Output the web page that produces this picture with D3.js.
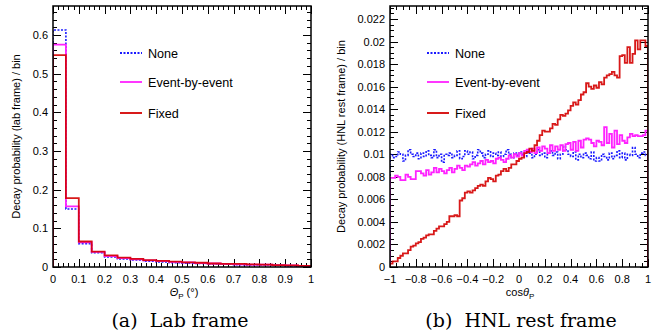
<!DOCTYPE html>
<html>
<head>
<meta charset="utf-8" />
<script src="https://d3js.org/d3.v7.min.js"></script>
<style>
  body { margin: 0; background: #fff; }
  text { font-family: "Liberation Sans", Arial, sans-serif; }
  .cap { font-family: "DejaVu Serif", "Liberation Serif", serif; }
</style>
</head>
<body>
<svg id="fig" width="662" height="332"></svg>
<script>
// ---- data ----
var seriesNames = ["None", "Event-by-event", "Fixed"];
var seriesColors = ["#1a1aff", "#ff22ff", "#d40000"];

// (a) lab frame, 20 bins of 0.05 in Theta_P
var labNone  = [0.613, 0.150, 0.060, 0.037, 0.026, 0.021, 0.018, 0.015, 0.013, 0.011, 0.010, 0.009, 0.008, 0.007, 0.006, 0.005, 0.005, 0.004, 0.003, 0.002];
var labEvent = [0.575, 0.157, 0.064, 0.039, 0.028, 0.023, 0.020, 0.017, 0.015, 0.013, 0.012, 0.010, 0.009, 0.008, 0.007, 0.006, 0.006, 0.005, 0.004, 0.003];
var labFixed = [0.548, 0.178, 0.066, 0.040, 0.030, 0.024, 0.021, 0.018, 0.016, 0.014, 0.012, 0.011, 0.009, 0.008, 0.008, 0.007, 0.006, 0.005, 0.004, 0.003];

// (b) HNL rest frame, 100 bins of 0.02 in cos(theta_P)
var restNone = [
  0.0100, 0.0097, 0.0098, 0.0102, 0.0100, 0.0094, 0.0099, 0.0104, 0.0100, 0.0098,
  0.0101, 0.0096, 0.0101, 0.0098, 0.0103, 0.0099, 0.0097, 0.0104, 0.0097, 0.0100,
  0.0093, 0.0100, 0.0099, 0.0101, 0.0097, 0.0099, 0.0103, 0.0096, 0.0098, 0.0103,
  0.0100, 0.0102, 0.0096, 0.0099, 0.0104, 0.0101, 0.0097, 0.0100, 0.0103, 0.0098,
  0.0101, 0.0099, 0.0102, 0.0098, 0.0100, 0.0104, 0.0100, 0.0097, 0.0101, 0.0099,
  0.0102, 0.0100, 0.0098, 0.0103, 0.0101, 0.0097, 0.0100, 0.0104, 0.0099, 0.0101,
  0.0097, 0.0101, 0.0103, 0.0099, 0.0102, 0.0096, 0.0100, 0.0107, 0.0104, 0.0100,
  0.0098, 0.0102, 0.0095, 0.0100, 0.0097, 0.0101, 0.0099, 0.0096, 0.0102, 0.0094,
  0.0097, 0.0094, 0.0100, 0.0098, 0.0095, 0.0101, 0.0096, 0.0099, 0.0103, 0.0097,
  0.0101, 0.0095, 0.0100, 0.0099, 0.0106, 0.0100, 0.0097, 0.0101, 0.0102, 0.0099];
var restEvent = [
  0.0079, 0.0079, 0.0081, 0.0080, 0.0077, 0.0077, 0.0082, 0.0080, 0.0078, 0.0078,
  0.0085, 0.0085, 0.0083, 0.0081, 0.0086, 0.0082, 0.0084, 0.0088, 0.0084, 0.0087,
  0.0085, 0.0083, 0.0086, 0.0088, 0.0084, 0.0087, 0.0090, 0.0088, 0.0086, 0.0090,
  0.0089, 0.0091, 0.0093, 0.0090, 0.0092, 0.0094, 0.0091, 0.0095, 0.0093, 0.0094,
  0.0092, 0.0096, 0.0097, 0.0095, 0.0093, 0.0096, 0.0099, 0.0097, 0.0100, 0.0098,
  0.0101, 0.0099, 0.0103, 0.0104, 0.0102, 0.0105, 0.0101, 0.0106, 0.0103, 0.0107,
  0.0105, 0.0101, 0.0108, 0.0103, 0.0107, 0.0104, 0.0108, 0.0103, 0.0109, 0.0110,
  0.0104, 0.0111, 0.0103, 0.0112, 0.0106, 0.0113, 0.0114, 0.0113, 0.0110, 0.0107,
  0.0112, 0.0111, 0.0108, 0.0124, 0.0110, 0.0118, 0.0106, 0.0121, 0.0109, 0.0117,
  0.0112, 0.0110, 0.0115, 0.0118, 0.0116, 0.0117, 0.0116, 0.0116, 0.0117, 0.0121];
var restFixed = [
  0.0003, 0.0005, 0.0005, 0.0008, 0.0010, 0.0012, 0.0012, 0.0015, 0.0018, 0.0019,
  0.0021, 0.0022, 0.0025, 0.0026, 0.0028, 0.0029, 0.0029, 0.0032, 0.0034, 0.0036,
  0.0036, 0.0038, 0.0040, 0.0045, 0.0045, 0.0046, 0.0045, 0.0059, 0.0061, 0.0066,
  0.0067, 0.0066, 0.0068, 0.0070, 0.0072, 0.0073, 0.0072, 0.0076, 0.0079, 0.0078,
  0.0076, 0.0081, 0.0082, 0.0085, 0.0087, 0.0085, 0.0088, 0.0091, 0.0091, 0.0094,
  0.0096, 0.0097, 0.0101, 0.0102, 0.0105, 0.0103, 0.0108, 0.0112, 0.0117, 0.0121,
  0.0120, 0.0120, 0.0123, 0.0127, 0.0126, 0.0131, 0.0135, 0.0134, 0.0136, 0.0139,
  0.0143, 0.0146, 0.0144, 0.0148, 0.0153, 0.0155, 0.0163, 0.0160, 0.0158, 0.0161,
  0.0159, 0.0164, 0.0162, 0.0168, 0.0170, 0.0171, 0.0173, 0.0170, 0.0168, 0.0187,
  0.0188, 0.0181, 0.0195, 0.0181, 0.0189, 0.0201, 0.0193, 0.0201, 0.0201, 0.0196];

var labXTicks = [0, 0.1, 0.2, 0.3, 0.4, 0.5, 0.6, 0.7, 0.8, 0.9, 1];
var labYTicks = [0, 0.1, 0.2, 0.3, 0.4, 0.5, 0.6];
var restXTicks = [-1, -0.8, -0.6, -0.4, -0.2, 0, 0.2, 0.4, 0.6, 0.8, 1];
var restYTicks = [0, 0.002, 0.004, 0.006, 0.008, 0.01, 0.012, 0.014, 0.016, 0.018, 0.02, 0.022];

var svg = d3.select("#fig");

function panel(opt) {
  var g = svg.append("g");
  var x = d3.scaleLinear().domain(opt.xdom).range([opt.left, opt.right]);
  var y = d3.scaleLinear().domain(opt.ydom).range([opt.bottom, opt.top]);

  var clipId = "clip" + opt.id;
  svg.append("clipPath").attr("id", clipId).append("rect")
    .attr("x", opt.left).attr("y", opt.top)
    .attr("width", opt.right - opt.left).attr("height", opt.bottom - opt.top);

  // minor + major ticks, mirrored on all four sides, pointing inward
  var xMinor = d3.range(opt.xdom[0], opt.xdom[1] + 1e-9, opt.xminor);
  var yMinor = d3.range(opt.ydom[0], opt.ydom[1] + 1e-9, opt.yminor);
  var tk = g.append("g").attr("stroke", "#000").attr("stroke-width", 1);
  xMinor.forEach(function (v) {
    var px = Math.round(x(v)) + 0.5;
    tk.append("line").attr("x1", px).attr("x2", px).attr("y1", opt.bottom).attr("y2", opt.bottom - 4);
    tk.append("line").attr("x1", px).attr("x2", px).attr("y1", opt.top).attr("y2", opt.top + 4);
  });
  opt.xticks.forEach(function (v) {
    var px = Math.round(x(v)) + 0.5;
    tk.append("line").attr("x1", px).attr("x2", px).attr("y1", opt.bottom).attr("y2", opt.bottom - 8);
    tk.append("line").attr("x1", px).attr("x2", px).attr("y1", opt.top).attr("y2", opt.top + 8);
  });
  yMinor.forEach(function (v) {
    var py = Math.round(y(v)) + 0.5;
    tk.append("line").attr("x1", opt.left).attr("x2", opt.left + 4).attr("y1", py).attr("y2", py);
    tk.append("line").attr("x1", opt.right).attr("x2", opt.right - 4).attr("y1", py).attr("y2", py);
  });
  opt.yticks.forEach(function (v) {
    var py = Math.round(y(v)) + 0.5;
    tk.append("line").attr("x1", opt.left).attr("x2", opt.left + 8).attr("y1", py).attr("y2", py);
    tk.append("line").attr("x1", opt.right).attr("x2", opt.right - 8).attr("y1", py).attr("y2", py);
  });

  // tick labels
  g.selectAll(".xl").data(opt.xticks).enter().append("text")
    .attr("x", function (d) { return x(d); }).attr("y", opt.bottom + 16)
    .attr("text-anchor", "middle").attr("font-size", 11)
    .text(function (d) { return d3.format("")(d).replace("-", "\u2212"); });
  g.selectAll(".yl").data(opt.yticks).enter().append("text")
    .attr("x", opt.left - 5).attr("y", function (d) { return y(d) + 4; })
    .attr("text-anchor", "end").attr("font-size", 11)
    .text(function (d) { return d3.format("")(+d.toFixed(4)); });

  // histograms
  var line = d3.line().x(function (d) { return x(d[0]); }).y(function (d) { return y(d[1]); });
  var hg = g.append("g").attr("clip-path", "url(#" + clipId + ")");
  opt.series.forEach(function (vals, k) {
    var n = vals.length, w = (opt.xdom[1] - opt.xdom[0]) / n;
    var pts = [[opt.xdom[0], 0]];
    vals.forEach(function (v, i) {
      pts.push([opt.xdom[0] + i * w, v]);
      pts.push([opt.xdom[0] + (i + 1) * w, v]);
    });
    pts.push([opt.xdom[1], 0]);
    hg.append("path").attr("d", line(pts)).attr("fill", "none")
      .attr("stroke", seriesColors[k]).attr("stroke-width", k === 0 ? 1.6 : 1.8)
      .attr("stroke-dasharray", k === 0 ? "2,1.5" : null)
      .attr("opacity", k === 2 ? 0.9 : 1);
  });

  // frame
  g.append("rect").attr("x", opt.left).attr("y", opt.top)
    .attr("width", opt.right - opt.left).attr("height", opt.bottom - opt.top)
    .attr("fill", "none").attr("stroke", "#000").attr("stroke-width", 1.5);

  // legend
  seriesNames.forEach(function (name, k) {
    var ly = opt.legY[k];
    g.append("line").attr("x1", opt.legX).attr("x2", opt.legX + 22).attr("y1", ly).attr("y2", ly)
      .attr("stroke", seriesColors[k]).attr("stroke-width", 1.8)
      .attr("stroke-dasharray", k === 0 ? "2,1.5" : null);
    g.append("text").attr("x", opt.legX + 28).attr("y", ly + 4.5).attr("font-size", 12.6).text(name);
  });

  // y title
  g.append("text").attr("transform", "translate(" + opt.ytitleX + "," + ((opt.top + opt.bottom) / 2) + ") rotate(-90)")
    .attr("text-anchor", "middle").attr("font-size", 11).text(opt.ytitle);

  return { g: g, x: x, y: y };
}

var pa = panel({
  id: "a", left: 53, right: 311, top: 6, bottom: 267,
  xdom: [0, 1], ydom: [0, 0.675], xminor: 0.02, yminor: 0.02,
  xticks: labXTicks, yticks: labYTicks,
  series: [labNone, labEvent, labFixed],
  legX: 120, legY: [53, 82, 113], ytitleX: 20,
  ytitle: "Decay probability (lab frame) / bin"
});
var pb = panel({
  id: "b", left: 390, right: 648, top: 6, bottom: 267,
  xdom: [-1, 1], ydom: [0, 0.02315], xminor: 0.05, yminor: 0.0005,
  xticks: restXTicks, yticks: restYTicks,
  series: [restNone, restEvent, restFixed],
  legX: 427, legY: [53, 82, 113], ytitleX: 345,
  ytitle: "Decay probability (HNL rest frame) / bin"
});

// x titles
var xa = pa.g.append("text").attr("x", 184).attr("y", 296).attr("text-anchor", "middle").attr("font-size", 11);
xa.append("tspan").attr("font-style", "italic").text("\u0398");
xa.append("tspan").attr("font-size", 8).attr("dy", 3).text("P");
xa.append("tspan").attr("dy", -3).text(" (\u00b0)");
var xb = pb.g.append("text").attr("x", 520).attr("y", 296).attr("text-anchor", "middle").attr("font-size", 11);
xb.append("tspan").text("cos");
xb.append("tspan").attr("font-style", "italic").text("\u03b8");
xb.append("tspan").attr("font-size", 8).attr("dy", 3).text("P");

// captions
svg.append("text").attr("class", "cap").attr("x", 180).attr("y", 327).attr("text-anchor", "middle")
  .attr("font-size", 19).attr("xml:space", "preserve").text("(a)  Lab frame");
svg.append("text").attr("class", "cap").attr("x", 521).attr("y", 327).attr("text-anchor", "middle")
  .attr("font-size", 19).attr("xml:space", "preserve").text("(b)  HNL rest frame");
</script>
</body>
</html>
